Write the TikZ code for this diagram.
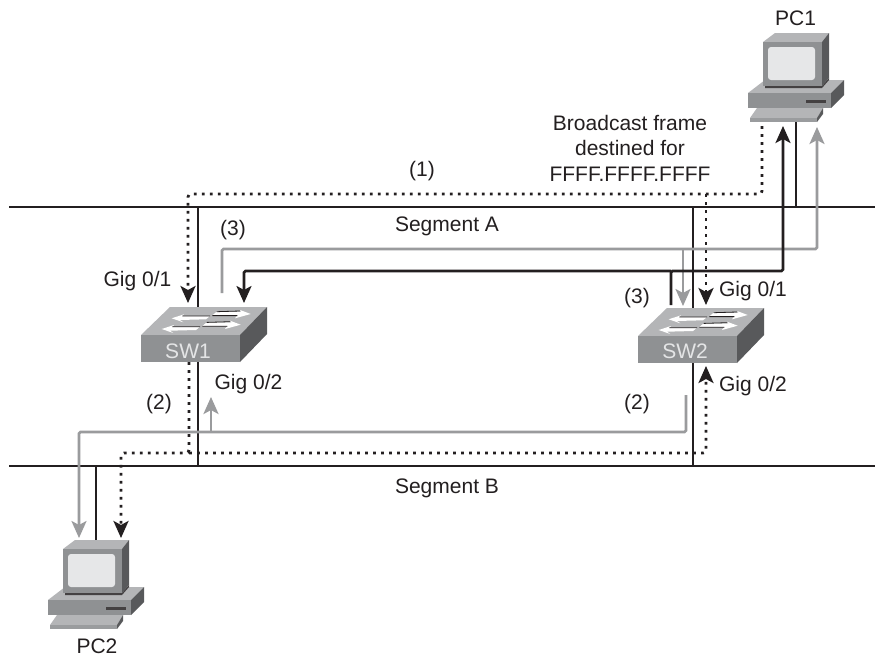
\documentclass[tikz,border=0pt]{standalone}
\usepackage{fontspec}
\setmainfont{Liberation Sans}
\usetikzlibrary{arrows.meta}
\definecolor{ink}{HTML}{231F20}
\definecolor{graypath}{HTML}{9A9B9D}
\definecolor{facetop}{HTML}{B4B5B7}
\definecolor{facefront}{HTML}{8F9193}
\definecolor{faceside}{HTML}{58595B}
\definecolor{screenc}{HTML}{E6E7E8}
\definecolor{swtext}{HTML}{E4E5E6}
\tikzset{
  lan/.style={draw=ink,line width=2.4pt},
  blackpath/.style={draw=ink,line width=2.6pt,rounded corners=1.5pt},
  greypath/.style={draw=graypath,line width=2.6pt,rounded corners=1.5pt},
  dotpath/.style={draw=ink,line width=2.8pt,dash pattern=on 2.8pt off 5.2pt,rounded corners=3pt},
  headk/.style={-{Stealth[length=17pt,width=15pt,inset=4pt,color=ink]}},
  headg/.style={-{Stealth[length=17pt,width=15pt,inset=4pt,color=graypath]}},
  lab/.style={font=\fontsize{21}{25.5}\selectfont,text=ink,inner sep=0pt,anchor=center},
  swlab/.style={font=\fontsize{21}{25.5}\selectfont,text=swtext,inner sep=0pt,anchor=center},
}
\newcommand{\swarrows}{%
  \fill[white] (171.7,318.3)--(184,314.3)--(182.3,316)--(210,316)--(206,319.3)--(180,320)--(183.3,322.3)--cycle;
  \fill[white] (250.7,314)--(240,310)--(241.7,311.7)--(216.7,311.7)--(212.3,315.3)--(237.3,315.3)--(235,318.3)--cycle;
  \draw[ink,line width=.8pt] (182.3,316)--(210,316) (212.3,315.6)--(237.3,315.6) (216.7,311.7)--(240,311);
}
\newcommand{\drawswitch}{%
  \fill[facetop] (170,307)--(267,307)--(240,335)--(141,335)--cycle;
  \fill[facefront] (141,335) rectangle (240,362);
  \fill[faceside] (267,307)--(267,334)--(240,362)--(240,335)--cycle;
  \swarrows
  \begin{scope}[shift={(-10,10.7)}]\swarrows\end{scope}
}
\newcommand{\drawpc}{%
  % base
  \fill[facetop] (765,80)--(844,80)--(831,93)--(748,93)--cycle;
  \fill[facefront] (748,93) rectangle (831,108);
  \fill[faceside] (844,80)--(844,95)--(831,108)--(831,93)--cycle;
  \fill[ink!85] (806,100) rectangle (826,102.5);
  % keyboard
  \fill[facetop] (757,108)--(823,108)--(817,118)--(750,118)--cycle;
  \fill[facefront!90] (750,118)--(817,118)--(817,122)--(750,122)--cycle;
  \fill[faceside] (823,108)--(823,114)--(817,122)--(817,118)--cycle;
  % monitor
  \fill[ink!85] (765,86)--(822,86)--(829,78)--(829,80)--(822,88)--(765,88)--cycle;
  \fill[facetop] (775,33)--(829,33)--(822,42)--(763,42)--cycle;
  \fill[facefront] (763,42) rectangle (822,86);
  \fill[faceside] (829,33)--(829,78)--(822,86)--(822,42)--cycle;
  \fill[screenc,rounded corners=3pt] (768,47) rectangle (815,80);
}
\begin{document}
\begin{tikzpicture}[x=1pt,y=-1pt]
\useasboundingbox (0,0) rectangle (875,656);
\fill[white] (0,0) rectangle (875,656);

% named points
\coordinate (aL) at (9,207);   \coordinate (aR) at (875,207);
\coordinate (bL) at (9,466);   \coordinate (bR) at (875,466);
\coordinate (sw1top) at (198,307); \coordinate (sw1bot) at (198,362);
\coordinate (sw2top) at (693,308); \coordinate (sw2bot) at (693,362);
\coordinate (sw1onA) at (198,207); \coordinate (sw1onB) at (198,466);
\coordinate (sw2onA) at (693,207); \coordinate (sw2onB) at (693,466);
\coordinate (pc1onA) at (796,207); \coordinate (pc1port) at (796,122);
\coordinate (pc2onB) at (96,466);  \coordinate (pc2port) at (96,540);
% black (3)
\coordinate (k1) at (783,126); \coordinate (k2) at (783,271); \coordinate (k3) at (671,271);
\coordinate (k4) at (244,271); \coordinate (k5) at (244,303); \coordinate (k6) at (671,305);
% gray (3)
\coordinate (g1) at (817,127); \coordinate (g2) at (817,249); \coordinate (g3) at (683,249);
\coordinate (g4) at (222,249); \coordinate (g5) at (222,293); \coordinate (g6) at (683,306);
% dotted (1)
\coordinate (d1) at (762,126); \coordinate (d2) at (762,194); \coordinate (d3) at (706,194);
\coordinate (d4) at (188,194); \coordinate (d5) at (188,303); \coordinate (d6) at (706,305);
% dotted lower
\coordinate (e1) at (189,362); \coordinate (e2) at (189,453); \coordinate (e3) at (121,453);
\coordinate (e4) at (121,538); \coordinate (e5) at (706,453); \coordinate (e6) at (706,366);
% gray (2)
\coordinate (h1) at (686,395); \coordinate (h2) at (686,432); \coordinate (h3) at (211,432);
\coordinate (h4) at (211,397); \coordinate (h5) at (79,432);  \coordinate (h6) at (79,538);

% segments and drops
\draw[lan] (aL)--(aR);
\draw[lan] (bL)--(bR);
\draw[lan] (sw1onA)--(sw1top);
\draw[lan] (sw1bot)--(sw1onB);
\draw[lan] (sw2onA)--(sw2top);
\draw[lan] (sw2bot)--(sw2onB);
\draw[lan] (pc1onA)--(pc1port);
\draw[lan] (pc2onB)--(pc2port);

% grey paths
\draw[greypath,headg] (g5)--(g4)--(g2)--(g1);
\draw[greypath,headg] (g3)--(g6);
\draw[greypath,headg] (h1)--(h2)--(h5)--(h6);
\draw[greypath,headg] (h3)--(h4);

% black paths
\draw[blackpath,headk] (k6)--(k3)--(k2)--(k1);
\draw[blackpath,headk] (k3)--(k4)--(k5);

% dotted paths
\draw[dotpath,headk] (d1)--(d2)--(d4)--(d5);
\draw[dotpath,headk] (d3)--(d6);
\draw[dotpath,headk] (e1)--(e2)--(e3)--(e4);
\draw[dotpath,headk] (e2)--(e5)--(e6);

% devices
\drawswitch
\begin{scope}[shift={(497,1)}]\drawswitch\end{scope}
\drawpc
\begin{scope}[shift={(-700,507)}]\drawpc\end{scope}

% labels
\node[swlab] (sw1) at (188,351) {SW1};
\node[swlab] (sw2) at (685,351) {SW2};
\node[lab] (pc1) at (795.5,18) {PC1};
\node[lab] (pc2) at (97,646) {PC2};
\node[lab,align=center] (bc) at (630,148) {Broadcast frame\\destined for\\FFFF.FFFF.FFFF};
\node[lab] (n1) at (422,171) {(1)};
\node[lab] (sa) at (447,226) {Segment A};
\node[lab] (sb) at (447,488) {Segment B};
\node[lab] (n3a) at (233,230) {(3)};
\node[lab] (n3b) at (637,298) {(3)};
\node[lab] (n2a) at (159,404) {(2)};
\node[lab] (n2b) at (637,404) {(2)};
\node[lab] (g1a) at (137.5,281) {Gig 0/1};
\node[lab] (g2a) at (248.5,384) {Gig 0/2};
\node[lab] (g1b) at (753,291) {Gig 0/1};
\node[lab] (g2b) at (753,386) {Gig 0/2};
\end{tikzpicture}
\end{document}
